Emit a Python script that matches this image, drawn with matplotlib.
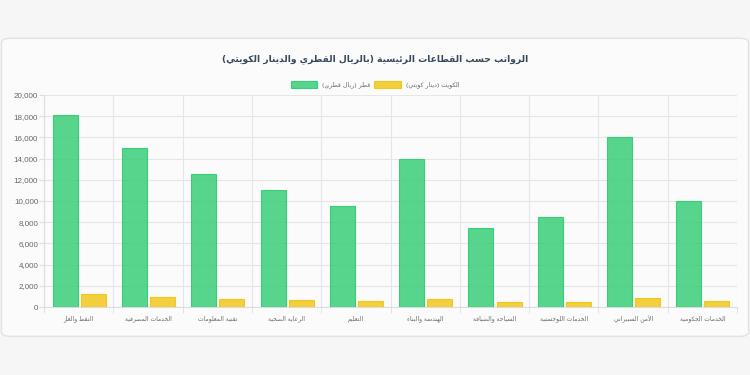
import numpy as np
import matplotlib
matplotlib.use('Agg')
import matplotlib.pyplot as plt
from matplotlib.patches import FancyBboxPatch
from matplotlib.ticker import FuncFormatter

# data
sectors = ['النفط والغاز', 'الخدمات المصرفية', 'تقنية المعلومات', 'الرعاية الصحية', 'التعليم',
           'الهندسة والبناء', 'السياحة والضيافة', 'الخدمات اللوجستية', 'الأمن السيبراني',
           'الخدمات الحكومية']
qatar = [18100, 15000, 12500, 11000, 9500, 14000, 7500, 8500, 16000, 10000]
kuwait = [1200, 900, 750, 650, 550, 800, 450, 500, 850, 600]
series_names = ['قطر (ريال قطري)', 'الكويت (دينار كويتي)']
title = 'الرواتب حسب القطاعات الرئيسية (بالريال القطري والدينار الكويتي)'
y_ticks = [0, 2000, 4000, 6000, 8000, 10000, 12000, 14000, 16000, 18000, 20000]

# matplotlib does no arabic shaping, so join letters by hand
# (isolated presentation form, number of forms: 4 = joins both sides)
FORMS = {
    'ء': (0xFE80, 1), 'آ': (0xFE81, 2), 'أ': (0xFE83, 2), 'ؤ': (0xFE85, 2), 'إ': (0xFE87, 2),
    'ئ': (0xFE89, 4), 'ا': (0xFE8D, 2), 'ب': (0xFE8F, 4), 'ة': (0xFE93, 2), 'ت': (0xFE95, 4),
    'ث': (0xFE99, 4), 'ج': (0xFE9D, 4), 'ح': (0xFEA1, 4), 'خ': (0xFEA5, 4), 'د': (0xFEA9, 2),
    'ذ': (0xFEAB, 2), 'ر': (0xFEAD, 2), 'ز': (0xFEAF, 2), 'س': (0xFEB1, 4), 'ش': (0xFEB5, 4),
    'ص': (0xFEB9, 4), 'ض': (0xFEBD, 4), 'ط': (0xFEC1, 4), 'ظ': (0xFEC5, 4), 'ع': (0xFEC9, 4),
    'غ': (0xFECD, 4), 'ف': (0xFED1, 4), 'ق': (0xFED5, 4), 'ك': (0xFED9, 4), 'ل': (0xFEDD, 4),
    'م': (0xFEE1, 4), 'ن': (0xFEE5, 4), 'ه': (0xFEE9, 4), 'و': (0xFEED, 2), 'ى': (0xFEEF, 2),
    'ي': (0xFEF1, 4),
}
LAM_ALEF = {'ا': 0xFEFB, 'أ': 0xFEF7, 'إ': 0xFEF9, 'آ': 0xFEF5}


def shape(text):
    out = []
    i = 0
    while i < len(text):
        c = text[i]
        if c not in FORMS:
            out.append(c)
            i += 1
            continue
        base, kind = FORMS[c]
        prev = text[i - 1] if i > 0 else ''
        nxt = text[i + 1] if i + 1 < len(text) else ''
        joins_prev = prev in FORMS and FORMS[prev][1] == 4
        if c == 'ل' and nxt in LAM_ALEF:
            out.append(chr(LAM_ALEF[nxt] + (1 if joins_prev else 0)))
            i += 2
            continue
        joins_next = kind == 4 and nxt in FORMS
        if kind == 1:
            form = 0
        elif kind == 2:
            form = 1 if joins_prev else 0
        else:
            form = [[0, 2], [1, 3]][joins_prev][joins_next]
        out.append(chr(base + form))
        i += 1
    return ''.join(out)


def rtl(text):
    s = shape(text)[::-1]
    return s.translate(str.maketrans('()', ')('))


plt.rcParams['font.family'] = ['DejaVu Sans']

fig = plt.figure(figsize=(7.5, 3.75), dpi=100)
fig.patch.set_facecolor('#f6f6f6')

# card behind the chart
card = FancyBboxPatch((0.002, 0.103), 0.996, 0.795, boxstyle='round,pad=0,rounding_size=0.012',
                      transform=fig.transFigure, facecolor='#fbfbfb', edgecolor='#e2e2e2',
                      linewidth=1, zorder=-5)
fig.patches.append(card)

ax = fig.add_axes([0.0587, 0.1813, 0.924, 0.5654])
ax.set_facecolor('none')

x = np.arange(len(sectors))
w = 0.36
ax.bar(x - 0.195, qatar, w, color=(46/255, 204/255, 113/255, 0.8),
       edgecolor=(46/255, 204/255, 113/255, 0.9), linewidth=0.8, label=rtl(series_names[0]), zorder=3)
ax.bar(x + 0.21, kuwait, w, color=(241/255, 196/255, 15/255, 0.8),
       edgecolor=(241/255, 196/255, 15/255, 0.9), linewidth=0.8, label=rtl(series_names[1]), zorder=3)

ax.set_xlim(-0.5, len(sectors) - 0.5)
ax.set_ylim(0, 20000)
ax.set_yticks(y_ticks)
ax.yaxis.set_major_formatter(FuncFormatter(lambda v, p: f'{int(v):,}'))
ax.set_xticks(x)
ax.set_xticklabels([rtl(s) for s in sectors], fontsize=4.3, color='#666666')
ax.set_xticks(np.arange(len(sectors) + 1) - 0.5, minor=True)
ax.tick_params(axis='x', which='major', length=0, pad=6)
ax.tick_params(axis='x', which='minor', length=4, color='#dddddd')
ax.tick_params(axis='y', length=3.6, color='#dddddd', labelsize=5.8, labelcolor='#666666', pad=0.6)
for lab in ax.get_yticklabels():
    lab.set_family(['Liberation Sans'])

ax.grid(axis='y', color='#e6e6e6', linewidth=0.8, zorder=0)
ax.grid(axis='x', which='minor', color='#e6e6e6', linewidth=0.8, zorder=0)
for s in ['top', 'right']:
    ax.spines[s].set_visible(False)
for s in ['left', 'bottom']:
    ax.spines[s].set_color('#dddddd')
    ax.spines[s].set_linewidth(0.8)

fig.text(0.5, 0.843, rtl(title), ha='center', va='center', fontsize=6.6,
         fontweight='bold', color='#34495e')
fig.legend(loc='center', bbox_to_anchor=(0.5, 0.775), ncol=2, frameon=False,
           fontsize=4.5, labelcolor='#666666', handlelength=4.2, handleheight=1.45,
           columnspacing=0.6, handletextpad=0.8)

fig.savefig('out.png', dpi=100, facecolor=fig.get_facecolor())
